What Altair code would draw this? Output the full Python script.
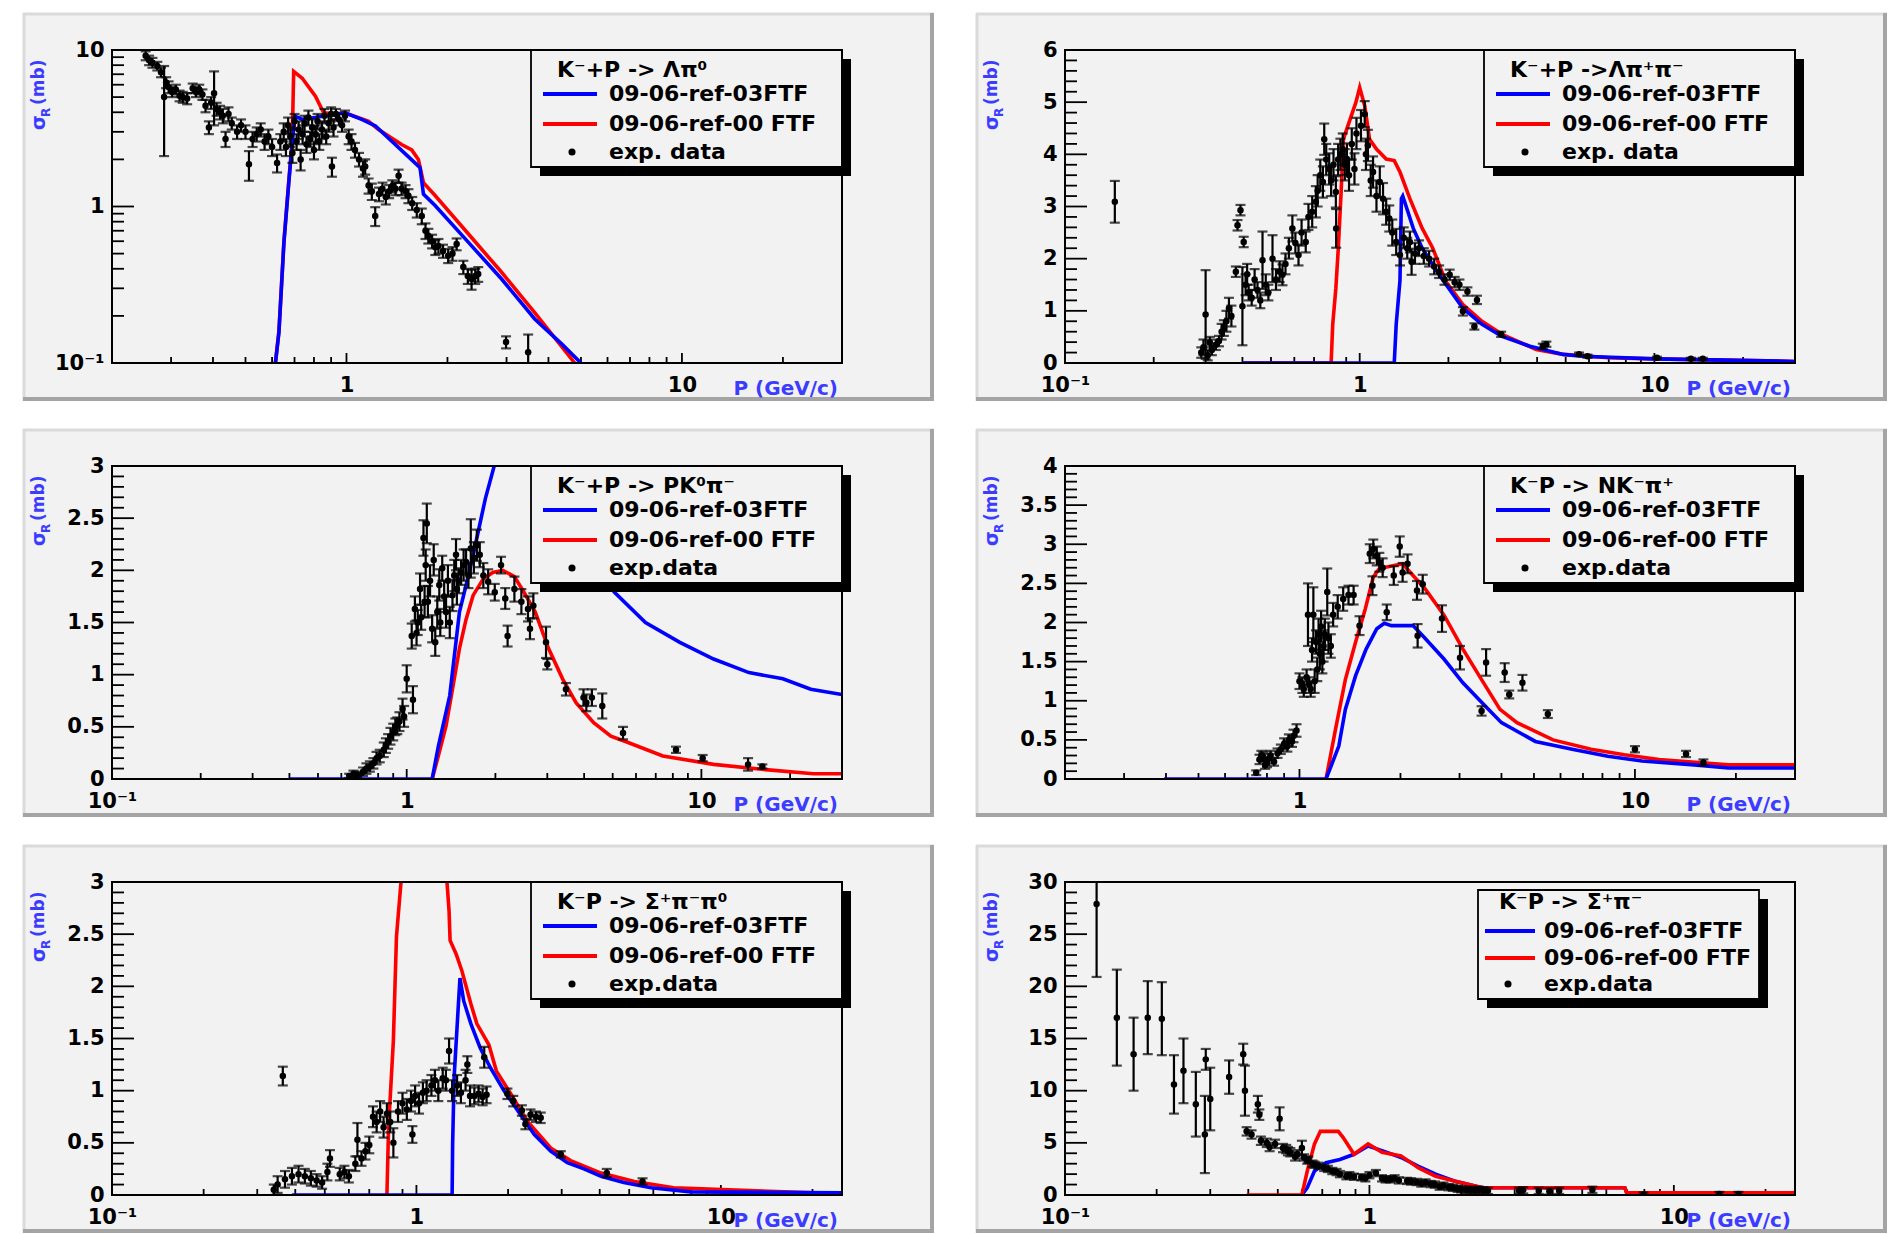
import altair as alt
import pandas as pd

W, H = 730, 313
FONT = "DejaVu Sans"
BLUE = "#0000ff"
RED = "#ff0000"
AXBLUE = "#3c3cff"
PAD_BG = "#f2f2f2"

LABEL_BLUE = "09-06-ref-03FTF"
LABEL_RED = "09-06-ref-00 FTF"
TITLES = ["K⁻+P -> Λπ⁰", "K⁻+P ->Λπ⁺π⁻", "K⁻+P -> PK⁰π⁻",
          "K⁻P -> NK⁻π⁺", "K⁻P -> Σ⁺π⁻π⁰", "K⁻P -> Σ⁺π⁻"]
EXP_LABELS = ["exp. data", "exp. data", "exp.data", "exp.data", "exp.data", "exp.data"]
X_TITLE = "P (GeV/c)"

# ---------------- Panel 1 : K-+P -> Lambda pi0 (log y) ----------------
EXP1 = [(0.252, 9.2, 0.6), (0.258, 8.6, 0.6), (0.264, 8.3, 0.6), (0.273, 7.9, 0.5), (0.28, 7.2, 0.5),
        (0.286, 5.0, 2.9), (0.29, 6.2, 0.5), (0.295, 5.8, 0.5), (0.302, 5.4, 0.4), (0.31, 5.6, 0.4),
        (0.318, 5.1, 0.4), (0.325, 5.0, 0.4), (0.335, 4.9, 0.4), (0.348, 5.7, 0.4), (0.356, 5.4, 0.4),
        (0.364, 5.6, 0.4), (0.372, 5.2, 0.4), (0.38, 4.4, 0.4), (0.389, 3.2, 0.3), (0.395, 4.6, 0.4),
        (0.403, 5.3, 2.0), (0.41, 4.2, 0.4), (0.42, 4.0, 0.4), (0.428, 3.8, 0.4), (0.436, 2.7, 0.3),
        (0.445, 3.9, 0.4), (0.455, 3.4, 0.3), (0.472, 3.0, 0.3), (0.485, 3.3, 0.3), (0.50, 3.0, 0.3),
        (0.512, 1.86, 0.4), (0.525, 2.7, 0.3), (0.54, 2.9, 0.3), (0.555, 3.1, 0.3), (0.57, 2.6, 0.3),
        (0.585, 2.8, 0.3), (0.6, 2.4, 0.3), (0.621, 1.9, 0.25), (0.635, 2.6, 0.3), (0.65, 3.0, 0.4),
        (0.66, 2.4, 0.3), (0.67, 3.3, 0.4), (0.68, 2.8, 0.4), (0.69, 2.2, 0.3), (0.70, 3.5, 0.4),
        (0.71, 2.6, 0.3), (0.72, 3.1, 0.4), (0.73, 2.0, 0.3), (0.74, 2.9, 0.4), (0.75, 3.4, 0.4),
        (0.76, 2.5, 0.3), (0.77, 3.7, 0.4), (0.78, 2.7, 0.3), (0.79, 3.2, 0.4), (0.80, 2.3, 0.3),
        (0.81, 2.9, 0.4), (0.82, 3.5, 0.4), (0.83, 2.6, 0.3), (0.845, 3.1, 0.4), (0.86, 3.8, 0.4),
        (0.87, 2.8, 0.3), (0.885, 3.4, 0.4), (0.9, 3.9, 0.4), (0.905, 1.8, 0.25), (0.915, 3.2, 0.4),
        (0.93, 3.9, 0.3), (0.95, 3.6, 0.3), (0.97, 3.3, 0.3), (0.99, 3.8, 0.3), (1.015, 2.8, 0.3),
        (1.035, 2.6, 0.3), (1.06, 2.3, 0.25), (1.09, 2.0, 0.2), (1.12, 1.75, 0.2), (1.137, 1.8, 0.2),
        (1.164, 1.36, 0.15), (1.19, 1.25, 0.15), (1.218, 0.87, 0.12), (1.25, 1.2, 0.12), (1.28, 1.3, 0.12),
        (1.31, 1.15, 0.12), (1.34, 1.25, 0.12), (1.37, 1.35, 0.12), (1.4, 1.3, 0.12), (1.43, 1.57, 0.15),
        (1.46, 1.3, 0.12), (1.5, 1.25, 0.12), (1.53, 1.17, 0.12), (1.57, 1.05, 0.1), (1.62, 0.95, 0.1),
        (1.677, 0.87, 0.1), (1.72, 0.7, 0.08), (1.754, 0.65, 0.07), (1.8, 0.6, 0.06), (1.84, 0.55, 0.06),
        (1.88, 0.56, 0.06), (1.94, 0.52, 0.05), (2.01, 0.485, 0.05), (2.07, 0.5, 0.05), (2.13, 0.575, 0.05),
        (2.23, 0.41, 0.04), (2.3, 0.36, 0.04), (2.36, 0.344, 0.05), (2.42, 0.36, 0.04), (2.47, 0.37, 0.04),
        (2.99, 0.136, 0.012), (3.48, 0.117, 0.035)]
BLUE1_P = [0.614, 0.629, 0.651, 0.673, 0.689, 0.702, 0.738, 0.99, 1.11, 1.22, 1.6, 1.657, 1.696, 1.84, 2.31, 2.9, 3.64, 4.37, 5.0]
BLUE1_S = [0.1, 0.157, 0.59, 1.42, 2.56, 3.78, 3.6, 3.97, 3.6, 3.27, 1.9, 1.77, 1.2, 1.01, 0.59, 0.344, 0.191, 0.133, 0.1]
RED1_P = [0.614, 0.629, 0.651, 0.673, 0.689, 0.696, 0.738, 0.808, 0.855, 0.924, 0.99, 1.164, 1.246, 1.46, 1.565, 1.638, 1.696, 1.84, 2.31, 2.9, 3.64, 4.79]
RED1_S = [0.1, 0.16, 0.6, 1.45, 2.6, 7.3, 6.6, 5.07, 3.97, 3.9, 3.97, 3.5, 3.1, 2.49, 2.3, 2.0, 1.42, 1.17, 0.667, 0.38, 0.21, 0.1]

# ---------------- Panel 2 : K-+P -> Lambda pi+ pi- ----------------
EXP2 = [(0.1476, 3.09, 0.4), (0.29, 0.2, 0.1), (0.295, 0.3, 0.15), (0.30, 0.93, 0.85), (0.305, 0.15, 0.1),
        (0.31, 0.4, 0.1), (0.315, 0.25, 0.1), (0.325, 0.35, 0.1), (0.333, 0.42, 0.1), (0.34, 0.6, 0.15),
        (0.346, 0.67, 0.15), (0.353, 0.8, 0.2), (0.36, 1.05, 0.2), (0.367, 0.9, 0.2), (0.38, 1.75, 0.1),
        (0.385, 2.64, 0.1), (0.394, 2.93, 0.1), (0.40, 1.09, 0.75), (0.404, 2.32, 0.1), (0.41, 1.5, 0.2),
        (0.415, 1.7, 0.2), (0.42, 1.35, 0.15), (0.43, 1.25, 0.15), (0.44, 1.6, 0.2), (0.45, 1.4, 0.15),
        (0.46, 1.2, 0.15), (0.468, 1.97, 0.55), (0.48, 1.5, 0.2), (0.49, 1.35, 0.15), (0.506, 2.0, 0.45),
        (0.52, 1.6, 0.2), (0.535, 1.75, 0.2), (0.547, 1.69, 0.2), (0.56, 1.9, 0.2), (0.575, 2.2, 0.2),
        (0.591, 2.58, 0.25), (0.605, 2.3, 0.2), (0.62, 2.07, 0.2), (0.635, 2.5, 0.25), (0.656, 2.32, 0.2),
        (0.67, 2.8, 0.25), (0.69, 2.9, 0.3), (0.71, 3.09, 0.3), (0.72, 3.3, 0.3), (0.735, 3.6, 0.3),
        (0.75, 3.47, 0.3), (0.758, 4.29, 0.3), (0.77, 3.9, 0.3), (0.788, 3.72, 0.3), (0.80, 3.5, 0.3),
        (0.815, 3.8, 0.3), (0.83, 3.28, 0.3), (0.832, 2.58, 0.37), (0.845, 3.9, 0.3), (0.86, 4.0, 0.3),
        (0.876, 4.1, 0.3), (0.89, 3.8, 0.3), (0.905, 3.91, 0.3), (0.92, 3.6, 0.3), (0.94, 4.2, 0.3),
        (0.96, 3.72, 0.3), (0.975, 4.4, 0.3), (1.01, 4.55, 0.3), (1.04, 4.77, 0.25), (1.05, 4.0, 0.3),
        (1.066, 4.17, 0.3), (1.09, 3.5, 0.3), (1.11, 3.66, 0.3), (1.14, 3.2, 0.3), (1.17, 3.47, 0.3),
        (1.2, 3.15, 0.3), (1.23, 2.9, 0.25), (1.26, 2.77, 0.25), (1.29, 2.5, 0.25), (1.33, 2.32, 0.25),
        (1.37, 2.07, 0.2), (1.41, 2.4, 0.2), (1.45, 2.2, 0.2), (1.48, 2.32, 0.2), (1.5, 1.94, 0.25),
        (1.54, 2.1, 0.2), (1.59, 2.2, 0.15), (1.65, 2.05, 0.15), (1.72, 2.0, 0.15), (1.79, 1.85, 0.15),
        (1.86, 1.75, 0.12), (1.94, 1.6, 0.1), (2.02, 1.69, 0.1), (2.1, 1.55, 0.1), (2.18, 1.5, 0.1),
        (2.24, 0.99, 0.08), (2.32, 1.37, 0.08), (2.45, 0.70, 0.06), (2.5, 1.21, 0.08), (3.02, 0.55, 0.05),
        (4.18, 0.32, 0.05), (4.3, 0.36, 0.05), (5.55, 0.17, 0.03), (5.93, 0.13, 0.03), (10.2, 0.1, 0.02),
        (13.3, 0.08, 0.02), (14.6, 0.08, 0.02)]
BLUE2_P = [0.4, 1.31, 1.33, 1.37, 1.385, 1.40, 1.52, 1.63, 1.86, 2.24, 2.6, 3.04, 3.78, 4.9, 5.7, 10, 30]
BLUE2_S = [0, 0, 0.74, 1.59, 3.15, 3.2, 2.58, 2.2, 1.69, 1.05, 0.74, 0.51, 0.32, 0.165, 0.13, 0.08, 0.03]
RED2_P = [0.4, 0.80, 0.81, 0.83, 0.846, 0.865, 0.88, 0.97, 1.0, 1.04, 1.08, 1.14, 1.23, 1.31, 1.37, 1.48, 1.63, 1.77, 1.96, 2.24, 2.6, 3.04, 3.97, 4.9, 7, 10, 30]
RED2_S = [0, 0, 0.74, 1.43, 2.2, 3.28, 4.29, 4.99, 5.28, 4.93, 4.29, 4.1, 3.91, 3.88, 3.66, 3.15, 2.58, 2.2, 1.56, 1.12, 0.80, 0.55, 0.26, 0.165, 0.1, 0.08, 0.03]

# ---------------- Panel 3 : K-+P -> P K0 pi- ----------------
EXP3 = [(0.638, 0.03, 0.02), (0.66, 0.05, 0.03), (0.68, 0.04, 0.03), (0.711, 0.07, 0.04), (0.73, 0.1, 0.05),
        (0.75, 0.12, 0.05), (0.771, 0.15, 0.05), (0.79, 0.2, 0.06), (0.81, 0.22, 0.06), (0.836, 0.28, 0.07),
        (0.85, 0.32, 0.07), (0.865, 0.36, 0.07), (0.881, 0.41, 0.08), (0.9, 0.45, 0.08), (0.915, 0.5, 0.08),
        (0.929, 0.51, 0.08), (0.945, 0.55, 0.09), (0.968, 0.67, 0.1), (0.98, 0.6, 0.1), (1.0, 0.96, 0.13),
        (1.04, 1.37, 0.12), (1.05, 0.76, 0.13), (1.066, 1.63, 0.12), (1.08, 1.4, 0.12), (1.09, 1.5, 0.12),
        (1.11, 1.82, 0.15), (1.12, 1.55, 0.12), (1.14, 2.31, 0.17), (1.15, 1.7, 0.15), (1.16, 2.05, 0.15),
        (1.17, 2.45, 0.19), (1.18, 1.7, 0.15), (1.2, 1.9, 0.15), (1.22, 1.44, 0.13), (1.235, 2.1, 0.15),
        (1.25, 1.31, 0.13), (1.27, 1.6, 0.15), (1.29, 1.86, 0.15), (1.3, 1.5, 0.13), (1.32, 2.02, 0.12),
        (1.34, 1.75, 0.15), (1.36, 1.6, 0.15), (1.38, 1.9, 0.15), (1.40, 1.5, 0.15), (1.43, 1.76, 0.15),
        (1.45, 1.95, 0.15), (1.47, 2.15, 0.15), (1.48, 1.82, 0.15), (1.5, 1.9, 0.12), (1.53, 1.98, 0.12),
        (1.56, 2.05, 0.15), (1.59, 2.08, 0.12), (1.62, 1.95, 0.12), (1.65, 2.21, 0.28), (1.69, 2.12, 0.15),
        (1.73, 2.24, 0.15), (1.77, 2.15, 0.12), (1.82, 1.95, 0.12), (1.89, 1.89, 0.12), (1.99, 1.79, 0.08),
        (2.09, 2.05, 0.08), (2.16, 1.73, 0.1), (2.2, 1.37, 0.1), (2.32, 1.82, 0.12), (2.45, 1.7, 0.12),
        (2.58, 1.63, 0.12), (2.62, 1.44, 0.1), (2.69, 1.66, 0.12), (2.97, 1.31, 0.15), (3.0, 1.1, 0.05),
        (3.47, 0.86, 0.06), (3.98, 0.78, 0.08), (4.07, 0.73, 0.08), (4.25, 0.78, 0.08), (4.61, 0.70, 0.12),
        (5.42, 0.44, 0.06), (8.2, 0.28, 0.03), (10.1, 0.2, 0.03), (14.4, 0.14, 0.06), (16.1, 0.12, 0.02)]
BLUE3_P = [0.4, 1.22, 1.28, 1.40, 1.51, 1.63, 1.73, 1.85, 1.99, 2.3, 2.64, 3.5, 4.2, 5.07, 6.46, 8.45, 11.0, 14.5, 18.9, 23.5, 30]
BLUE3_S = [0, 0, 0.31, 0.80, 1.6, 1.98, 2.31, 2.69, 3.02, 3.4, 3.3, 2.6, 2.1, 1.79, 1.5, 1.31, 1.15, 1.02, 0.96, 0.86, 0.81]
RED3_P = [1.22, 1.28, 1.36, 1.43, 1.51, 1.59, 1.68, 1.82, 1.96, 2.12, 2.32, 2.5, 2.73, 3.03, 3.38, 3.76, 4.31, 4.93, 5.64, 7.4, 11.0, 16.5, 24, 30]
RED3_S = [0, 0.22, 0.51, 0.86, 1.25, 1.53, 1.76, 1.92, 1.98, 2.0, 1.94, 1.79, 1.6, 1.25, 0.96, 0.73, 0.54, 0.41, 0.35, 0.22, 0.14, 0.09, 0.05, 0.05]

# ---------------- Panel 4 : K-P -> N K- pi+ ----------------
EXP4 = [(0.743, 0.08, 0.03), (0.76, 0.25, 0.06), (0.77, 0.3, 0.06), (0.78, 0.28, 0.06), (0.79, 0.18, 0.05),
        (0.80, 0.2, 0.05), (0.81, 0.26, 0.06), (0.82, 0.3, 0.06), (0.84, 0.22, 0.05), (0.86, 0.33, 0.06),
        (0.88, 0.38, 0.06), (0.9, 0.45, 0.07), (0.92, 0.42, 0.07), (0.93, 0.5, 0.07), (0.95, 0.48, 0.07),
        (0.96, 0.55, 0.08), (0.98, 0.62, 0.08), (1.0, 1.25, 0.1), (1.02, 1.2, 0.1), (1.03, 1.15, 0.1),
        (1.05, 1.3, 0.1), (1.06, 2.1, 0.4), (1.07, 1.2, 0.1), (1.08, 1.15, 0.1), (1.09, 1.65, 0.15),
        (1.1, 2.1, 0.35), (1.11, 1.25, 0.15), (1.12, 1.75, 0.15), (1.13, 1.4, 0.15), (1.14, 1.85, 0.2),
        (1.15, 1.6, 0.2), (1.16, 1.95, 0.2), (1.17, 1.5, 0.15), (1.18, 1.7, 0.2), (1.19, 1.85, 0.2),
        (1.21, 2.39, 0.3), (1.22, 1.8, 0.2), (1.24, 1.7, 0.15), (1.26, 2.1, 0.15), (1.3, 2.2, 0.15),
        (1.35, 2.3, 0.15), (1.4, 2.35, 0.12), (1.45, 2.35, 0.12), (1.51, 1.96, 0.12), (1.62, 2.88, 0.12),
        (1.65, 2.47, 0.12), (1.66, 2.94, 0.12), (1.7, 2.85, 0.12), (1.73, 2.77, 0.12), (1.77, 2.7, 0.12),
        (1.82, 2.13, 0.1), (1.91, 2.6, 0.12), (1.99, 2.97, 0.13), (2.03, 2.64, 0.12), (2.1, 2.75, 0.12),
        (2.24, 2.41, 0.12), (2.25, 1.83, 0.15), (2.33, 2.49, 0.12), (2.66, 2.05, 0.17), (3.01, 1.55, 0.15),
        (3.49, 0.87, 0.06), (3.6, 1.49, 0.17), (4.09, 1.36, 0.12), (4.22, 1.08, 0.05), (4.62, 1.23, 0.1),
        (5.5, 0.83, 0.05), (10.0, 0.38, 0.04), (14.2, 0.32, 0.04), (16.0, 0.21, 0.04)]
BLUE4_P = [0.395, 1.2, 1.31, 1.37, 1.47, 1.58, 1.7, 1.79, 1.88, 2.18, 2.33, 2.7, 3.07, 3.49, 4.0, 5.05, 6.5, 8.3, 10.5, 15.0, 19.0, 30]
BLUE4_S = [0, 0, 0.42, 0.89, 1.32, 1.66, 1.92, 1.99, 1.96, 1.96, 1.83, 1.53, 1.23, 0.98, 0.72, 0.48, 0.38, 0.29, 0.23, 0.18, 0.14, 0.14]
RED4_P = [1.2, 1.28, 1.37, 1.47, 1.57, 1.66, 1.73, 2.03, 2.18, 2.37, 2.7, 3.07, 3.49, 3.96, 4.45, 5.7, 7.4, 9.3, 11.8, 19, 30]
RED4_S = [0, 0.63, 1.27, 1.75, 2.17, 2.58, 2.69, 2.75, 2.6, 2.43, 2.09, 1.66, 1.27, 0.89, 0.72, 0.5, 0.38, 0.31, 0.25, 0.18, 0.18]

# ---------------- Panel 5 : K-P -> Sigma+ pi- pi0 ----------------
EXP5 = [(0.34, 0.05, 0.05), (0.35, 0.1, 0.08), (0.364, 1.14, 0.09), (0.37, 0.15, 0.08), (0.39, 0.18, 0.08),
        (0.41, 0.2, 0.08), (0.43, 0.18, 0.07), (0.45, 0.16, 0.07), (0.47, 0.14, 0.06), (0.49, 0.12, 0.06),
        (0.51, 0.22, 0.08), (0.52, 0.35, 0.08), (0.56, 0.2, 0.06), (0.58, 0.22, 0.06), (0.6, 0.18, 0.06),
        (0.63, 0.3, 0.07), (0.64, 0.53, 0.16), (0.66, 0.35, 0.07), (0.68, 0.42, 0.08), (0.7, 0.48, 0.08),
        (0.72, 0.75, 0.1), (0.74, 0.7, 0.1), (0.76, 0.8, 0.1), (0.78, 0.65, 0.1), (0.8, 0.78, 0.1),
        (0.82, 0.7, 0.1), (0.84, 0.5, 0.14), (0.87, 0.8, 0.1), (0.9, 0.88, 0.1), (0.93, 0.82, 0.1),
        (0.96, 0.9, 0.1), (0.97, 0.58, 0.08), (0.99, 0.95, 0.1), (1.02, 0.88, 0.1), (1.05, 0.98, 0.1),
        (1.08, 1.0, 0.1), (1.12, 1.05, 0.1), (1.15, 1.1, 0.1), (1.18, 1.0, 0.1), (1.22, 1.12, 0.1),
        (1.25, 1.1, 0.1), (1.28, 1.38, 0.12), (1.31, 1.0, 0.1), (1.36, 1.05, 0.1), (1.4, 0.98, 0.1),
        (1.45, 1.1, 0.1), (1.47, 1.25, 0.08), (1.5, 0.95, 0.1), (1.55, 0.95, 0.08), (1.6, 0.97, 0.08),
        (1.65, 0.94, 0.08), (1.67, 1.32, 0.1), (1.7, 0.96, 0.08), (1.99, 0.97, 0.05), (2.08, 0.9, 0.05),
        (2.22, 0.81, 0.05), (2.28, 0.68, 0.05), (2.37, 0.77, 0.05), (2.47, 0.75, 0.05), (2.56, 0.74, 0.05),
        (2.98, 0.39, 0.03), (4.22, 0.21, 0.04), (5.53, 0.13, 0.03)]
BLUE5_P = [0.39, 1.31, 1.315, 1.33, 1.37, 1.39, 1.43, 1.51, 1.62, 1.75, 1.94, 2.15, 2.44, 2.76, 3.13, 3.55, 4.04, 4.8, 5.9, 7.96, 25]
BLUE5_S = [0, 0, 0.49, 1.13, 1.77, 2.08, 1.86, 1.64, 1.41, 1.22, 1.0, 0.81, 0.58, 0.42, 0.31, 0.25, 0.18, 0.12, 0.07, 0.03, 0.02]
RED5_P = [0.80, 0.81, 0.84, 0.85, 0.86, 0.89, 0.95, 1.2, 1.26, 1.28, 1.29, 1.35, 1.41, 1.51, 1.58, 1.73, 1.83, 2.04, 2.31, 2.76, 3.21, 4.04, 5.2, 7.0, 20]
RED5_S = [0, 0.65, 1.48, 1.99, 2.48, 3.0, 4.5, 4.5, 3.0, 2.72, 2.44, 2.31, 2.15, 1.83, 1.64, 1.44, 1.19, 0.97, 0.71, 0.45, 0.33, 0.21, 0.13, 0.07, 0.02]

# ---------------- Panel 6 : K-P -> Sigma+ pi- ----------------
EXP6 = [(0.127, 27.9, 7.0), (0.148, 17.0, 4.6), (0.168, 13.5, 3.5), (0.187, 17.0, 3.5), (0.208, 16.9, 3.5),
        (0.228, 10.6, 2.8), (0.245, 11.9, 3.1), (0.269, 8.7, 3.1), (0.288, 5.8, 3.7), (0.29, 13.0, 1.0),
        (0.30, 9.2, 3.0), (0.346, 11.3, 1.6), (0.385, 13.5, 1.0), (0.39, 10.0, 2.4), (0.395, 6.1, 0.4),
        (0.41, 5.8, 0.4), (0.43, 8.7, 0.8), (0.435, 7.7, 0.5), (0.44, 5.2, 0.4), (0.46, 5.0, 0.4),
        (0.47, 4.6, 0.4), (0.49, 4.9, 0.4), (0.507, 7.3, 1.1), (0.52, 4.5, 0.4), (0.533, 4.4, 0.4),
        (0.54, 4.2, 0.4), (0.55, 4.1, 0.4), (0.57, 3.7, 0.4), (0.58, 3.9, 0.4), (0.6, 4.5, 0.7),
        (0.61, 3.6, 0.3), (0.625, 3.3, 0.3), (0.63, 3.4, 0.3), (0.65, 3.0, 0.3), (0.66, 2.9, 0.3),
        (0.68, 2.8, 0.3), (0.71, 2.6, 0.3), (0.73, 2.5, 0.3), (0.755, 2.3, 0.3), (0.78, 2.2, 0.3),
        (0.8, 2.0, 0.3), (0.84, 1.8, 0.3), (0.86, 1.9, 0.3), (0.89, 1.75, 0.3), (0.94, 1.7, 0.3),
        (0.97, 1.6, 0.3), (1.0, 1.9, 0.3), (1.05, 2.1, 0.3), (1.1, 1.6, 0.3), (1.13, 1.5, 0.3),
        (1.17, 1.5, 0.3), (1.21, 1.6, 0.3), (1.25, 1.4, 0.3), (1.33, 1.35, 0.3), (1.37, 1.3, 0.3),
        (1.43, 1.25, 0.3), (1.48, 1.1, 0.3), (1.53, 1.2, 0.3), (1.59, 1.05, 0.3), (1.64, 1.0, 0.3),
        (1.7, 0.8, 0.3), (1.75, 0.9, 0.3), (1.82, 0.75, 0.3), (1.88, 0.7, 0.3), (1.95, 0.6, 0.3),
        (2.0, 0.55, 0.3), (2.08, 0.5, 0.3), (2.15, 0.5, 0.3), (2.22, 0.45, 0.3), (2.29, 0.5, 0.3),
        (2.37, 0.45, 0.3), (2.45, 0.4, 0.3), (3.1, 0.4, 0.3), (3.2, 0.45, 0.3), (3.6, 0.4, 0.3),
        (3.9, 0.35, 0.3), (4.2, 0.4, 0.3), (5.4, 0.5, 0.3), (7.95, 0.05, 0.2), (14.1, 0.1, 0.2),
        (16.3, 0.1, 0.2)]
BLUE6_P = [0.60, 0.625, 0.66, 0.72, 0.80, 0.89, 0.99, 1.1, 1.27, 1.45, 1.65, 1.9, 2.35, 2.5, 6.9, 7.0, 25]
BLUE6_S = [0, 0.7, 2.3, 3.1, 3.4, 3.9, 4.7, 4.25, 3.6, 2.75, 2.0, 1.35, 0.7, 0.7, 0.7, 0.2, 0.2]
RED6_P = [0.395, 0.60, 0.625, 0.66, 0.69, 0.79, 0.82, 0.89, 0.99, 1.1, 1.27, 1.45, 1.65, 1.9, 2.35, 2.5, 6.9, 7.0, 25]
RED6_S = [0, 0, 2.3, 4.9, 6.1, 6.1, 5.5, 3.9, 4.9, 4.1, 3.75, 2.6, 1.8, 1.35, 0.7, 0.7, 0.7, 0.2, 0.2]

# legend geometry (pixels relative to the plot area): box, title, rows, sample line, marker, text
LEG_STD = dict(box=(419, 730, 0, 117), title=(445, 20), rows=(44, 74, 102), line=(431, 485), mark=460, text=497)
LEG_P6 = dict(box=(413, 694, 8, 117), title=(434, 20), rows=(49, 76, 102), line=(420, 470), mark=443, text=479)

PANELS = [
    dict(exp=EXP1, bp=BLUE1_P, bs=BLUE1_S, rp=RED1_P, rs=RED1_S, xdom=[0.2, 30], ylog=True, ydom=[0.1, 10],
         leg=LEG_STD, red_on_top=False),
    dict(exp=EXP2, bp=BLUE2_P, bs=BLUE2_S, rp=RED2_P, rs=RED2_S, xdom=[0.1, 30], ylog=False, ydom=[0, 6],
         ymaj=1.0, ymin=0.2, leg=LEG_STD, red_on_top=False),
    dict(exp=EXP3, bp=BLUE3_P, bs=BLUE3_S, rp=RED3_P, rs=RED3_S, xdom=[0.1, 30], ylog=False, ydom=[0, 3],
         ymaj=0.5, ymin=0.1, leg=LEG_STD, red_on_top=False),
    dict(exp=EXP4, bp=BLUE4_P, bs=BLUE4_S, rp=RED4_P, rs=RED4_S, xdom=[0.2, 30], ylog=False, ydom=[0, 4],
         ymaj=0.5, ymin=0.1, leg=LEG_STD, red_on_top=False),
    dict(exp=EXP5, bp=BLUE5_P, bs=BLUE5_S, rp=RED5_P, rs=RED5_S, xdom=[0.1, 25], ylog=False, ydom=[0, 3],
         ymaj=0.5, ymin=0.1, leg=LEG_STD, red_on_top=False),
    dict(exp=EXP6, bp=BLUE6_P, bs=BLUE6_S, rp=RED6_P, rs=RED6_S, xdom=[0.1, 25], ylog=False, ydom=[0, 30],
         ymaj=5.0, ymin=1.0, leg=LEG_P6, red_on_top=True),
]

LOG_EXPR = "datum.value < 0.5 ? '10⁻¹' : (datum.value < 5 ? '1' : '10')"


def log_ticks(lo, hi):
    maj, mnr = [], []
    for d in (0.1, 1.0, 10.0):
        for k in range(1, 10):
            v = round(k * d, 6)
            if lo - 1e-9 <= v <= hi + 1e-9:
                (maj if k == 1 else mnr).append(v)
    return maj, mnr


def lin_ticks(top, major, minor):
    n = int(round(top / minor))
    vals = [round(i * minor, 6) for i in range(n + 1)]
    maj = [v for v in vals if abs(v / major - round(v / major)) < 1e-6]
    mnr = [v for v in vals if v not in maj]
    return maj, mnr


ONE = pd.DataFrame({"d": [0]})


def build(idx, c):
    xs = alt.Scale(type="log", domain=c["xdom"], nice=False)
    if c["ylog"]:
        ys = alt.Scale(type="log", domain=c["ydom"], nice=False)
        ymaj, ymin = log_ticks(*c["ydom"])
        yexpr = LOG_EXPR
    else:
        ys = alt.Scale(type="linear", domain=c["ydom"], nice=False, zero=False)
        ymaj, ymin = lin_ticks(c["ydom"][1], c["ymaj"], c["ymin"])
        yexpr = "toString(datum.value)"
    xmaj, xmin = log_ticks(*c["xdom"])
    common = dict(ticks=False, domain=False, grid=False, title=None, labelFont=FONT, labelFontSize=21,
                  labelFontWeight="bold", labelColor="black", zindex=2, labelOverlap=False)
    xaxis = alt.Axis(values=xmaj, labelExpr=LOG_EXPR, labelPadding=11, labelFlush=False, **common)
    yaxis = alt.Axis(values=ymaj, labelExpr=yexpr, labelPadding=8, **common)

    def X(f):
        return alt.X(f + ":Q", scale=xs, axis=xaxis)

    def Y(f):
        return alt.Y(f + ":Q", scale=ys, axis=yaxis)

    def base(df=None):
        return alt.Chart(ONE if df is None else df)

    L = []
    # pad frame
    L.append(base().mark_rect(fill=PAD_BG).encode(
        x=alt.value(-89), x2=alt.value(W + 92), y=alt.value(-37), y2=alt.value(H + 38)))
    L.append(base().mark_rule(color="#dadada", strokeWidth=3).encode(
        x=alt.value(-89), x2=alt.value(W + 92), y=alt.value(-36)))
    L.append(base().mark_rule(color="#dadada", strokeWidth=3).encode(
        x=alt.value(-88), y=alt.value(-37), y2=alt.value(H + 38)))
    L.append(base().mark_rule(color="#a4a4a4", strokeWidth=4).encode(
        x=alt.value(W + 90), y=alt.value(-37), y2=alt.value(H + 38)))
    L.append(base().mark_rule(color="#a4a4a4", strokeWidth=4).encode(
        x=alt.value(-89), x2=alt.value(W + 92), y=alt.value(H + 36)))

    # ticks (drawn inwards, ROOT style)
    L.append(base(pd.DataFrame({"t": ymaj})).mark_rule(color="black", strokeWidth=1.8).encode(
        y=Y("t"), x=alt.value(0), x2=alt.value(22)))
    L.append(base(pd.DataFrame({"t": ymin})).mark_rule(color="black", strokeWidth=1.8).encode(
        y=Y("t"), x=alt.value(0), x2=alt.value(12)))
    L.append(base(pd.DataFrame({"t": xmaj})).mark_rule(color="black", strokeWidth=1.8).encode(
        x=X("t"), y=alt.value(H), y2=alt.value(H - 10)))
    L.append(base(pd.DataFrame({"t": xmin})).mark_rule(color="black", strokeWidth=1.8).encode(
        x=X("t"), y=alt.value(H), y2=alt.value(H - 6)))

    # model curves
    blue = base(pd.DataFrame({"P": c["bp"], "S": c["bs"]})).mark_line(
        color=BLUE, strokeWidth=3.6, clip=True).encode(x=X("P"), y=Y("S"))
    red = base(pd.DataFrame({"P": c["rp"], "S": c["rs"]})).mark_line(
        color=RED, strokeWidth=3.6, clip=True).encode(x=X("P"), y=Y("S"))
    L += [blue, red] if c["red_on_top"] else [red, blue]

    # experimental data
    floor = c["ydom"][0] if not c["ylog"] else 0.05
    rows = [{"P": p, "S": s, "lo": max(s - e, floor), "hi": s + e} for p, s, e in c["exp"]]
    ed = pd.DataFrame(rows)
    L.append(base(ed).mark_rule(color="black", strokeWidth=2.2, clip=True).encode(
        x=X("P"), y=Y("lo"), y2=alt.Y2("hi:Q")))
    L.append(base(ed).mark_tick(color="black", orient="horizontal", size=10, thickness=2.2, clip=True).encode(
        x=X("P"), y=Y("lo")))
    L.append(base(ed).mark_tick(color="black", orient="horizontal", size=10, thickness=2.2, clip=True).encode(
        x=X("P"), y=Y("hi")))
    L.append(base(ed).mark_circle(color="black", size=42, opacity=1, clip=True).encode(
        x=X("P"), y=Y("S")))

    # legend
    g = c["leg"]
    x1, x2, y1, y2 = g["box"]
    L.append(base().mark_rect(fill="black").encode(
        x=alt.value(x1 + 9), x2=alt.value(x2 + 9), y=alt.value(y1 + 9), y2=alt.value(y2 + 9)))
    L.append(base().mark_rect(fill=PAD_BG, stroke="black", strokeWidth=1.8).encode(
        x=alt.value(x1), x2=alt.value(x2), y=alt.value(y1), y2=alt.value(y2)))
    tf = dict(font=FONT, fontWeight="bold", fontSize=22, align="left", baseline="middle", color="black")
    L.append(base().mark_text(text=TITLES[idx], **tf).encode(
        x=alt.value(g["title"][0]), y=alt.value(g["title"][1])))
    r1, r2, r3 = g["rows"]
    L.append(base().mark_rule(color=BLUE, strokeWidth=4).encode(
        x=alt.value(g["line"][0]), x2=alt.value(g["line"][1]), y=alt.value(r1)))
    L.append(base().mark_rule(color=RED, strokeWidth=4).encode(
        x=alt.value(g["line"][0]), x2=alt.value(g["line"][1]), y=alt.value(r2)))
    L.append(base().mark_circle(color="black", size=50, opacity=1).encode(
        x=alt.value(g["mark"]), y=alt.value(r3)))
    L.append(base().mark_text(text=LABEL_BLUE, **tf).encode(x=alt.value(g["text"]), y=alt.value(r1)))
    L.append(base().mark_text(text=LABEL_RED, **tf).encode(x=alt.value(g["text"]), y=alt.value(r2)))
    L.append(base().mark_text(text=EXP_LABELS[idx], **tf).encode(x=alt.value(g["text"]), y=alt.value(r3)))

    # axis titles
    af = dict(font=FONT, fontWeight="bold", color=AXBLUE, baseline="middle")
    L.append(base().mark_text(text=X_TITLE, fontSize=20, align="right", **af).encode(
        x=alt.value(W - 4), y=alt.value(H + 26)))
    L.append(base().mark_text(text="σ", fontSize=19, align="left", angle=270, **af).encode(
        x=alt.value(-73), y=alt.value(80)))
    L.append(base().mark_text(text="R", fontSize=12, align="left", angle=270, **af).encode(
        x=alt.value(-66), y=alt.value(67)))
    L.append(base().mark_text(text="(mb)", fontSize=17, align="left", angle=270, **af).encode(
        x=alt.value(-73), y=alt.value(55)))

    # plot frame
    L.append(base().mark_rect(fill="transparent", stroke="black", strokeWidth=2).encode(
        x=alt.value(0), x2=alt.value(W), y=alt.value(0), y2=alt.value(H)))

    return alt.layer(*L).properties(width=W, height=H)


charts = [build(i, c) for i, c in enumerate(PANELS)]

chart = alt.concat(*charts, columns=2, spacing={"row": 103, "column": 223}, bounds="flush").properties(
    padding={"left": 21, "top": 11, "right": 0, "bottom": 0}
).configure(background="white").configure_view(strokeWidth=0)

chart.save("out.html", embed_options={"renderer": "svg", "actions": False})
